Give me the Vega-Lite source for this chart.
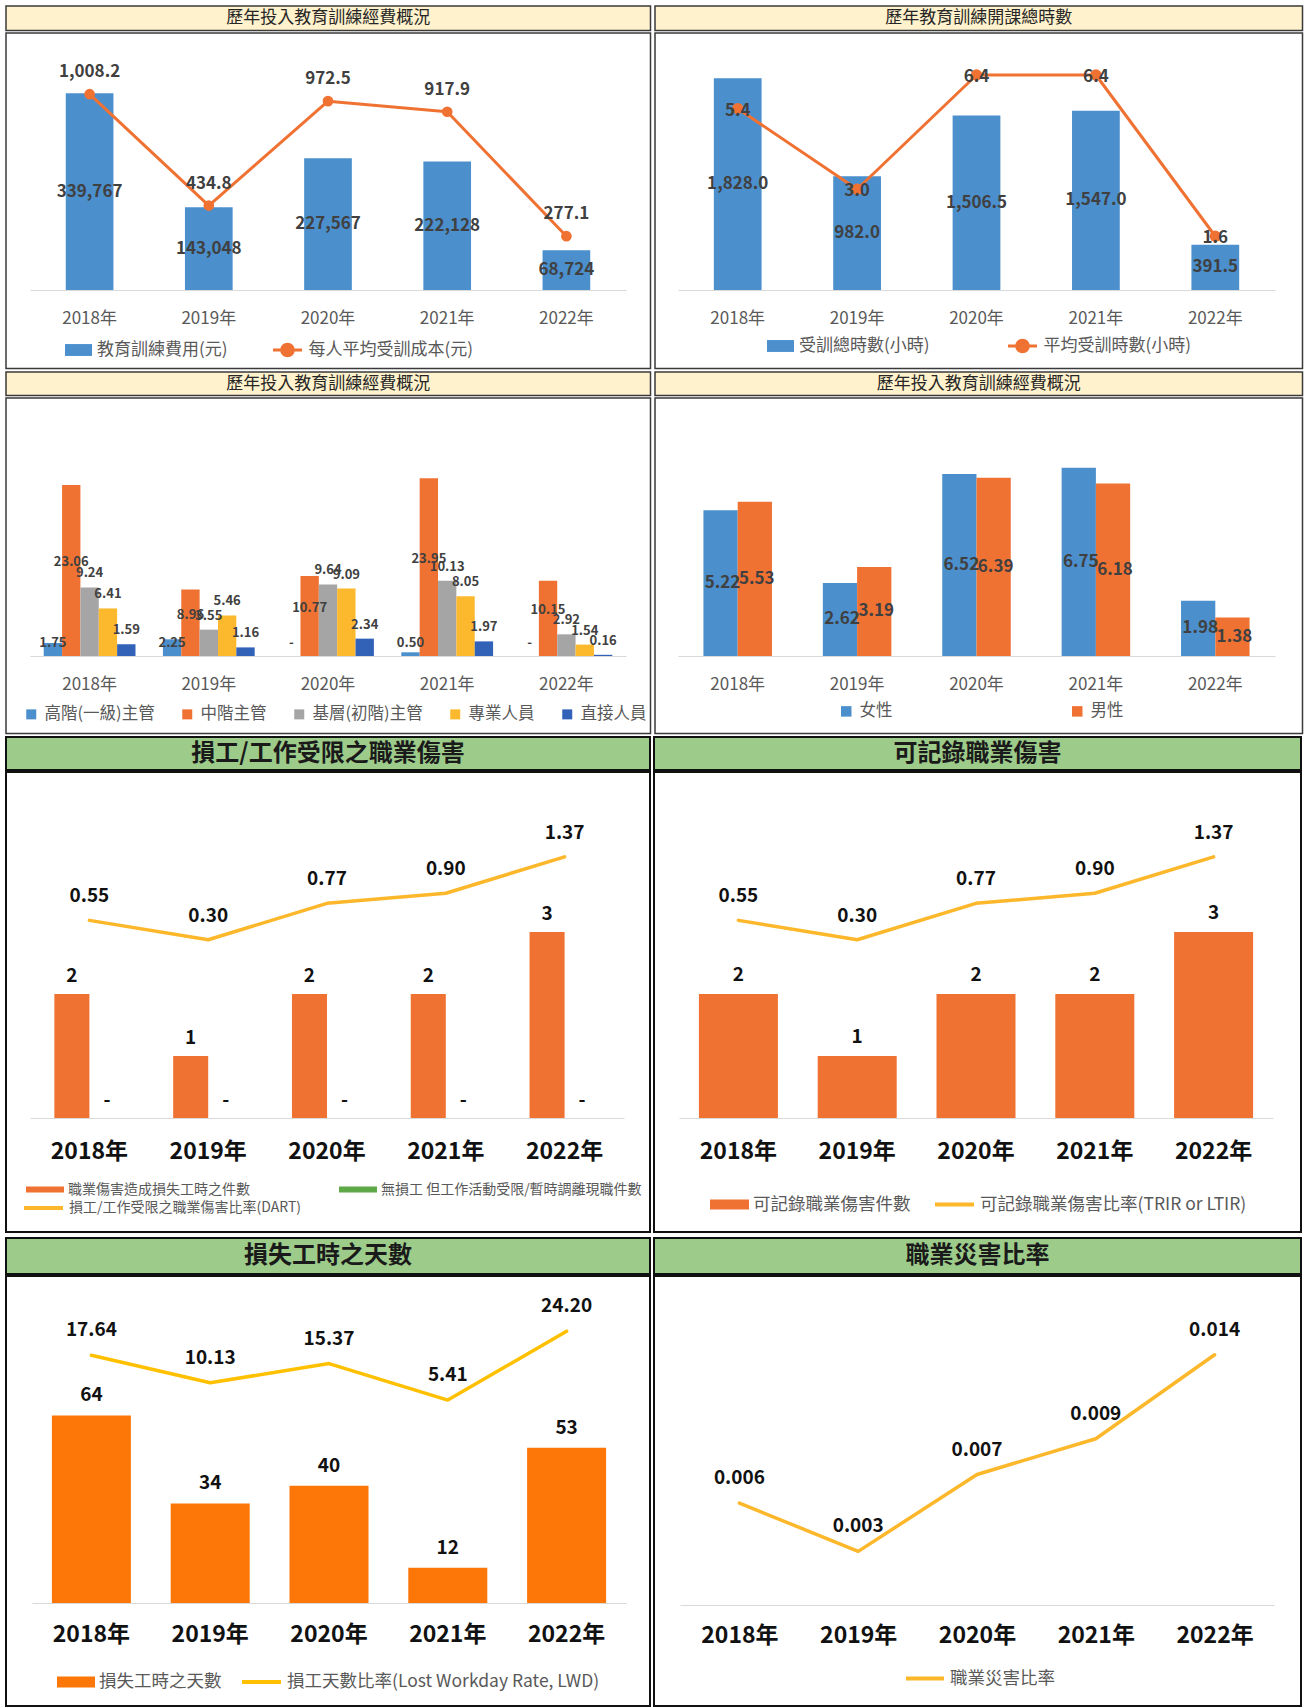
{
"$schema": "https://vega.github.io/schema/vega-lite/v6.json",
"background": "white",
"padding": {"left": 5, "top": 5, "right": 0, "bottom": 0},
"spacing": 4,
"config": {"view": {"stroke": null}, "font": "Noto Sans CJK TC", "text": {"font": "Noto Sans CJK TC"}},
"resolve": {"scale": {"x": "independent", "y": "independent", "xOffset": "independent", "fill": "independent", "stroke": "independent", "color": "independent"}, "legend": {"fill": "independent", "stroke": "independent", "color": "independent"}, "axis": {"x": "independent", "y": "independent"}},
"datasets": {
"p1": [
{"year":"2018年","v":339767,"r":1008.2},
{"year":"2019年","v":143048,"r":434.8},
{"year":"2020年","v":227567,"r":972.5},
{"year":"2021年","v":222128,"r":917.9},
{"year":"2022年","v":68724,"r":277.1}],
"p2": [
{"year":"2018年","v":1828.0,"r":5.4},
{"year":"2019年","v":982.0,"r":3.0},
{"year":"2020年","v":1506.5,"r":6.4},
{"year":"2021年","v":1547.0,"r":6.4},
{"year":"2022年","v":391.5,"r":1.6}],
"p3": [
{"year":"2018年","cat":"高階(一級)主管","v":1.75},
{"year":"2018年","cat":"中階主管","v":23.06},
{"year":"2018年","cat":"基層(初階)主管","v":9.24},
{"year":"2018年","cat":"專業人員","v":6.41},
{"year":"2018年","cat":"直接人員","v":1.59},
{"year":"2019年","cat":"高階(一級)主管","v":2.25},
{"year":"2019年","cat":"中階主管","v":8.96},
{"year":"2019年","cat":"基層(初階)主管","v":3.55},
{"year":"2019年","cat":"專業人員","v":5.46},
{"year":"2019年","cat":"直接人員","v":1.16},
{"year":"2020年","cat":"高階(一級)主管","v":0},
{"year":"2020年","cat":"中階主管","v":10.77},
{"year":"2020年","cat":"基層(初階)主管","v":9.64},
{"year":"2020年","cat":"專業人員","v":9.09},
{"year":"2020年","cat":"直接人員","v":2.34},
{"year":"2021年","cat":"高階(一級)主管","v":0.50},
{"year":"2021年","cat":"中階主管","v":23.95},
{"year":"2021年","cat":"基層(初階)主管","v":10.13},
{"year":"2021年","cat":"專業人員","v":8.05},
{"year":"2021年","cat":"直接人員","v":1.97},
{"year":"2022年","cat":"高階(一級)主管","v":0},
{"year":"2022年","cat":"中階主管","v":10.15},
{"year":"2022年","cat":"基層(初階)主管","v":2.92},
{"year":"2022年","cat":"專業人員","v":1.54},
{"year":"2022年","cat":"直接人員","v":0.16}],
"p4": [
{"year":"2018年","g":"女性","v":5.22},{"year":"2018年","g":"男性","v":5.53},
{"year":"2019年","g":"女性","v":2.62},{"year":"2019年","g":"男性","v":3.19},
{"year":"2020年","g":"女性","v":6.52},{"year":"2020年","g":"男性","v":6.39},
{"year":"2021年","g":"女性","v":6.75},{"year":"2021年","g":"男性","v":6.18},
{"year":"2022年","g":"女性","v":1.98},{"year":"2022年","g":"男性","v":1.38}],
"p5b": [
{"year":"2018年","s":"職業傷害造成損失工時之件數","v":2},{"year":"2018年","s":"無損工 但工作活動受限/暫時調離現職件數","v":0},
{"year":"2019年","s":"職業傷害造成損失工時之件數","v":1},{"year":"2019年","s":"無損工 但工作活動受限/暫時調離現職件數","v":0},
{"year":"2020年","s":"職業傷害造成損失工時之件數","v":2},{"year":"2020年","s":"無損工 但工作活動受限/暫時調離現職件數","v":0},
{"year":"2021年","s":"職業傷害造成損失工時之件數","v":2},{"year":"2021年","s":"無損工 但工作活動受限/暫時調離現職件數","v":0},
{"year":"2022年","s":"職業傷害造成損失工時之件數","v":3},{"year":"2022年","s":"無損工 但工作活動受限/暫時調離現職件數","v":0}],
"p5l": [
{"year":"2018年","r":0.55},{"year":"2019年","r":0.30},{"year":"2020年","r":0.77},{"year":"2021年","r":0.90},{"year":"2022年","r":1.37}],
"p6": [
{"year":"2018年","v":2,"r":0.55},{"year":"2019年","v":1,"r":0.30},{"year":"2020年","v":2,"r":0.77},{"year":"2021年","v":2,"r":0.90},{"year":"2022年","v":3,"r":1.37}],
"p7": [
{"year":"2018年","v":64,"r":17.64},{"year":"2019年","v":34,"r":10.13},{"year":"2020年","v":40,"r":15.37},{"year":"2021年","v":12,"r":5.41},{"year":"2022年","v":53,"r":24.20}],
"p8": [
{"year":"2018年","r":0.0057},{"year":"2019年","r":0.003},{"year":"2020年","r":0.0073},{"year":"2021年","r":0.0093},{"year":"2022年","r":0.014}]
},
"vconcat": [
{"spacing": 1,
 "resolve": {"scale": {"x": "independent", "y": "independent", "xOffset": "independent", "fill": "independent", "stroke": "independent", "color": "independent"}, "legend": {"fill": "independent", "stroke": "independent", "color": "independent"}, "axis": {"x": "independent", "y": "independent"}},
 "vconcat": [
{"resolve": {"scale": {"x": "independent", "y": "independent", "xOffset": "independent", "fill": "independent", "stroke": "independent", "color": "independent"}, "legend": {"fill": "independent", "stroke": "independent", "color": "independent"}, "axis": {"x": "independent", "y": "independent"}},
 "hconcat": [
 {"spacing": 0, "resolve": {"scale": {"x": "independent", "y": "independent", "xOffset": "independent", "fill": "independent", "stroke": "independent", "color": "independent"}, "legend": {"fill": "independent", "stroke": "independent", "color": "independent"}}, "vconcat": [
  {"width": 644.5, "height": 24.5, "view": {"fill": "#FFF2CC", "stroke": "#3a3a3a", "strokeWidth": 1.5},
   "data": {"values": [{"t": "歷年投入教育訓練經費概況"}]},
   "mark": {"type": "text", "fontSize": 17, "color": "#262626"},
   "encoding": {"text": {"field": "t", "type": "nominal"}}},
  {"width": 644.5, "height": 335.5, "view": {"fill": "white", "stroke": "#3a3a3a", "strokeWidth": 1.5},
   "data": {"name": "p1"},
   "encoding": {"x": {"field": "year", "type": "nominal", "scale": {"range": [24, 620], "paddingInner": 0.6, "paddingOuter": 0.3},
     "axis": {"title": null, "orient": "bottom", "offset": -78.5, "ticks": false, "tickSize": 0, "domainColor": "#D9D9D9", "domainWidth": 1.2, "labelPadding": 20, "labelFontSize": 17, "labelColor": "#595959", "labelAngle": 0, "grid": false}}},
   "layer": [
    {"mark": {"type": "bar"},
     "encoding": {"y": {"field": "v", "type": "quantitative", "scale": {"domain": [0, 443900], "range": [257, 0]}, "axis": null},
      "fill": {"datum": "教育訓練費用(元)", "scale": {"range": ["#4B8FCD"]},
       "legend": {"orient": "none", "legendX": 59, "legendY": 303.5, "title": null, "symbolType": "M-1,-0.44H1V0.44H-1Z", "symbolSize": 729, "symbolStrokeWidth": 0, "labelFontSize": 17, "labelColor": "#595959", "labelOffset": 5, "labelLimit": 500}}}},
    {"mark": {"type": "text", "fontSize": 17, "fontWeight": "bold", "color": "#404040"},
     "encoding": {"y": {"field": "v", "type": "quantitative", "scale": {"domain": [0, 887800], "range": [257, 0]}, "axis": null},
      "text": {"field": "v", "type": "quantitative", "format": ",d"}}},
    {"mark": {"type": "line", "strokeWidth": 3, "strokeJoin": "round"},
     "encoding": {"y": {"field": "r", "type": "quantitative", "scale": {"domain": [0, 1323.4], "range": [257, 0]}, "axis": null},
      "stroke": {"datum": "每人平均受訓成本(元)", "scale": {"range": ["#F07233"]},
       "legend": {"orient": "none", "legendX": 265.5, "legendY": 301, "title": null, "symbolType": "M-1,0H1M-0.4,0A0.4,0.4,0,1,0,0.4,0A0.4,0.4,0,1,0,-0.4,0", "symbolSize": 841, "symbolStrokeWidth": 3, "symbolFillColor": "#F07233", "labelFontSize": 17, "labelColor": "#595959", "labelOffset": 5, "labelLimit": 500,
        "encode": {"symbols": {"update": {"fill": {"value": "#F07233"}, "fillOpacity": {"value": 1}}}}}}}},
    {"mark": {"type": "point", "filled": true, "size": 115, "color": "#F07233", "opacity": 1},
     "encoding": {"y": {"field": "r", "type": "quantitative", "scale": {"domain": [0, 1323.4], "range": [257, 0]}, "axis": null}}},
    {"mark": {"type": "text", "dy": -22, "fontSize": 17, "fontWeight": "bold", "color": "#404040"},
     "encoding": {"y": {"field": "r", "type": "quantitative", "scale": {"domain": [0, 1323.4], "range": [257, 0]}, "axis": null},
      "text": {"field": "r", "type": "quantitative", "format": ",.1f"}}}
   ],
   "resolve": {"scale": {"y": "independent"}}}
 ]},
 {"spacing": 0, "resolve": {"scale": {"x": "independent", "y": "independent", "xOffset": "independent", "fill": "independent", "stroke": "independent", "color": "independent"}, "legend": {"fill": "independent", "stroke": "independent", "color": "independent"}}, "vconcat": [
  {"width": 647.5, "height": 24.5, "view": {"fill": "#FFF2CC", "stroke": "#3a3a3a", "strokeWidth": 1.5},
   "data": {"values": [{"t": "歷年教育訓練開課總時數"}]},
   "mark": {"type": "text", "fontSize": 17, "color": "#262626"},
   "encoding": {"text": {"field": "t", "type": "nominal"}}},
  {"width": 647.5, "height": 335.5, "view": {"fill": "white", "stroke": "#3a3a3a", "strokeWidth": 1.5},
   "data": {"name": "p2"},
   "encoding": {"x": {"field": "year", "type": "nominal", "scale": {"range": [23, 620], "paddingInner": 0.6, "paddingOuter": 0.3},
     "axis": {"title": null, "orient": "bottom", "offset": -78.5, "ticks": false, "tickSize": 0, "domainColor": "#D9D9D9", "domainWidth": 1.2, "labelPadding": 20, "labelFontSize": 17, "labelColor": "#595959", "labelAngle": 0, "grid": false}}},
   "layer": [
    {"mark": {"type": "bar"},
     "encoding": {"y": {"field": "v", "type": "quantitative", "scale": {"domain": [0, 2219], "range": [257, 0]}, "axis": null},
      "fill": {"datum": "受訓總時數(小時)", "scale": {"range": ["#4B8FCD"]},
       "legend": {"orient": "none", "legendX": 112, "legendY": 299.5, "title": null, "symbolType": "M-1,-0.44H1V0.44H-1Z", "symbolSize": 729, "symbolStrokeWidth": 0, "labelFontSize": 17, "labelColor": "#595959", "labelOffset": 5, "labelLimit": 500}}}},
    {"mark": {"type": "text", "fontSize": 17, "fontWeight": "bold", "color": "#404040"},
     "encoding": {"y": {"field": "v", "type": "quantitative", "scale": {"domain": [0, 4438], "range": [257, 0]}, "axis": null},
      "text": {"field": "v", "type": "quantitative", "format": ",.1f"}}},
    {"mark": {"type": "line", "strokeWidth": 3, "strokeJoin": "round"},
     "encoding": {"y": {"field": "r", "type": "quantitative", "scale": {"domain": [0, 7.65], "range": [257, 0]}, "axis": null},
      "stroke": {"datum": "平均受訓時數(小時)", "scale": {"range": ["#F07233"]},
       "legend": {"orient": "none", "legendX": 351.5, "legendY": 297, "title": null, "symbolType": "M-1,0H1M-0.4,0A0.4,0.4,0,1,0,0.4,0A0.4,0.4,0,1,0,-0.4,0", "symbolSize": 841, "symbolStrokeWidth": 3, "symbolFillColor": "#F07233", "labelFontSize": 17, "labelColor": "#595959", "labelOffset": 5, "labelLimit": 500,
        "encode": {"symbols": {"update": {"fill": {"value": "#F07233"}, "fillOpacity": {"value": 1}}}}}}}},
    {"mark": {"type": "point", "filled": true, "size": 130, "color": "#F07233", "opacity": 1},
     "encoding": {"y": {"field": "r", "type": "quantitative", "scale": {"domain": [0, 7.65], "range": [257, 0]}, "axis": null}}},
    {"mark": {"type": "text", "dy": 2, "fontSize": 17, "fontWeight": "bold", "color": "#404040"},
     "encoding": {"y": {"field": "r", "type": "quantitative", "scale": {"domain": [0, 7.65], "range": [257, 0]}, "axis": null},
      "text": {"field": "r", "type": "quantitative", "format": ".1f"}}}
   ],
   "resolve": {"scale": {"y": "independent"}}}
 ]}
], "spacing": 2},
{"resolve": {"scale": {"x": "independent", "y": "independent", "xOffset": "independent", "fill": "independent", "stroke": "independent", "color": "independent"}, "legend": {"fill": "independent", "stroke": "independent", "color": "independent"}, "axis": {"x": "independent", "y": "independent"}},
 "hconcat": [
 {"spacing": 0, "resolve": {"scale": {"x": "independent", "y": "independent", "xOffset": "independent", "fill": "independent", "stroke": "independent", "color": "independent"}, "legend": {"fill": "independent", "stroke": "independent", "color": "independent"}}, "vconcat": [
  {"width": 644.5, "height": 23.5, "view": {"fill": "#FFF2CC", "stroke": "#3a3a3a", "strokeWidth": 1.5},
   "data": {"values": [{"t": "歷年投入教育訓練經費概況"}]},
   "mark": {"type": "text", "fontSize": 17, "color": "#262626"},
   "encoding": {"text": {"field": "t", "type": "nominal"}}},
  {"width": 644.5, "height": 335.5, "view": {"fill": "white", "stroke": "#3a3a3a", "strokeWidth": 1.5},
   "data": {"name": "p3"},
   "encoding": {"x": {"field": "year", "type": "nominal", "scale": {"range": [24, 620], "paddingInner": 0.23, "paddingOuter": 0.115},
     "axis": {"title": null, "orient": "bottom", "offset": -77.5, "ticks": false, "tickSize": 0, "domainColor": "#D9D9D9", "domainWidth": 1.2, "labelPadding": 20, "labelFontSize": 17, "labelColor": "#595959", "labelAngle": 0, "grid": false}},
    "xOffset": {"field": "cat", "type": "nominal", "scale": {"domain": ["高階(一級)主管","中階主管","基層(初階)主管","專業人員","直接人員"]}}},
   "layer": [
    {"mark": {"type": "bar"},
     "encoding": {"y": {"field": "v", "type": "quantitative", "scale": {"domain": [0, 34.77], "range": [258, 0]}, "axis": null},
      "fill": {"field": "cat", "type": "nominal", "scale": {"domain": ["高階(一級)主管","中階主管","基層(初階)主管","專業人員","直接人員"], "range": ["#4B8FCD","#F07233","#A5A5A5","#FDB92D","#3162B8"]},
       "legend": {"orient": "none", "legendX": 17, "legendY": 308, "title": null, "direction": "horizontal", "columns": 5, "columnPadding": 24, "symbolType": "square", "symbolSize": 100, "symbolStrokeWidth": 0, "labelFontSize": 16.5, "labelColor": "#595959", "labelOffset": 5, "labelLimit": 500}}}},
    {"transform": [{"filter": "datum.cat === '高階(一級)主管'"}],
     "mark": {"type": "text", "dy": -13, "fontSize": 13, "fontWeight": "bold", "color": "#404040"},
     "encoding": {"y": {"datum": 0, "type": "quantitative", "scale": {"domain": [0, 34.77], "range": [258, 0]}, "axis": null},
      "text": {"condition": {"test": "datum.v === 0", "value": "-"}, "field": "v", "type": "quantitative", "format": ".2f"}}},
    {"transform": [{"filter": "datum.cat === '中階主管'"}],
     "mark": {"type": "text", "dy": -8, "fontSize": 13, "fontWeight": "bold", "color": "#404040"},
     "encoding": {"y": {"field": "v", "type": "quantitative", "scale": {"domain": [0, 69.54], "range": [258, 0]}, "axis": null},
      "text": {"field": "v", "type": "quantitative", "format": ".2f"}}},
    {"transform": [{"filter": "datum.cat !== '高階(一級)主管' && datum.cat !== '中階主管'"}],
     "mark": {"type": "text", "dy": -14, "fontSize": 13, "fontWeight": "bold", "color": "#404040"},
     "encoding": {"y": {"field": "v", "type": "quantitative", "scale": {"domain": [0, 34.77], "range": [258, 0]}, "axis": null},
      "text": {"field": "v", "type": "quantitative", "format": ".2f"}}}
   ],
   "resolve": {"scale": {"y": "independent"}}}
 ]},
 {"spacing": 0, "resolve": {"scale": {"x": "independent", "y": "independent", "xOffset": "independent", "fill": "independent", "stroke": "independent", "color": "independent"}, "legend": {"fill": "independent", "stroke": "independent", "color": "independent"}}, "vconcat": [
  {"width": 647.5, "height": 23.5, "view": {"fill": "#FFF2CC", "stroke": "#3a3a3a", "strokeWidth": 1.5},
   "data": {"values": [{"t": "歷年投入教育訓練經費概況"}]},
   "mark": {"type": "text", "fontSize": 17, "color": "#262626"},
   "encoding": {"text": {"field": "t", "type": "nominal"}}},
  {"width": 647.5, "height": 335.5, "view": {"fill": "white", "stroke": "#3a3a3a", "strokeWidth": 1.5},
   "data": {"name": "p4"},
   "encoding": {"x": {"field": "year", "type": "nominal", "scale": {"range": [23, 620], "paddingInner": 0.426, "paddingOuter": 0.213},
     "axis": {"title": null, "orient": "bottom", "offset": -77.5, "ticks": false, "tickSize": 0, "domainColor": "#D9D9D9", "domainWidth": 1.2, "labelPadding": 20, "labelFontSize": 17, "labelColor": "#595959", "labelAngle": 0, "grid": false}},
    "xOffset": {"field": "g", "type": "nominal", "scale": {"domain": ["女性","男性"]}}},
   "layer": [
    {"mark": {"type": "bar"},
     "encoding": {"y": {"field": "v", "type": "quantitative", "scale": {"domain": [0, 9.247], "range": [258, 0]}, "axis": null},
      "fill": {"field": "g", "type": "nominal", "scale": {"domain": ["女性","男性"], "range": ["#4B8FCD","#F07233"]},
       "legend": {"orient": "none", "legendX": 183, "legendY": 305, "title": null, "direction": "horizontal", "columns": 2, "columnPadding": 176, "symbolType": "square", "symbolSize": 110, "symbolStrokeWidth": 0, "labelFontSize": 16.5, "labelColor": "#595959", "labelOffset": 5, "labelLimit": 500}}}},
    {"mark": {"type": "text", "dx": 2, "fontSize": 17, "fontWeight": "bold", "color": "#404040"},
     "encoding": {"y": {"field": "v", "type": "quantitative", "scale": {"domain": [0, 18.49], "range": [258, 0]}, "axis": null},
      "text": {"field": "v", "type": "quantitative", "format": ".2f"}}}
   ],
   "resolve": {"scale": {"y": "independent"}}}
 ]}
], "spacing": 2},
{"resolve": {"scale": {"x": "independent", "y": "independent", "xOffset": "independent", "fill": "independent", "stroke": "independent", "color": "independent"}, "legend": {"fill": "independent", "stroke": "independent", "color": "independent"}, "axis": {"x": "independent", "y": "independent"}},
 "hconcat": [
 {"spacing": 0, "resolve": {"scale": {"x": "independent", "y": "independent", "xOffset": "independent", "fill": "independent", "stroke": "independent", "color": "independent"}, "legend": {"fill": "independent", "stroke": "independent", "color": "independent"}}, "vconcat": [
  {"width": 644, "height": 33, "view": {"fill": "#9DCC8A", "stroke": "#111", "strokeWidth": 2},
   "data": {"values": [{"t": "損工/工作受限之職業傷害"}]},
   "mark": {"type": "text", "fontSize": 24, "fontWeight": "bold", "color": "#1a1a1a"},
   "encoding": {"text": {"field": "t", "type": "nominal"}}},
  {"width": 644, "height": 460, "view": {"fill": "white", "stroke": "#111", "strokeWidth": 2},
   "encoding": {"x": {"field": "year", "type": "nominal", "scale": {"range": [24, 618], "paddingInner": 0.41, "paddingOuter": 0.205},
     "axis": {"title": null, "orient": "bottom", "offset": -114, "ticks": false, "tickSize": 0, "domainColor": "#D9D9D9", "domainWidth": 1.2, "labelPadding": 22, "labelFontSize": 23, "labelFontWeight": "bold", "labelColor": "#111", "labelAngle": 0, "grid": false}}},
   "layer": [
    {"data": {"name": "p5b"}, "mark": {"type": "bar"},
     "encoding": {"xOffset": {"field": "s", "type": "nominal", "scale": {"domain": ["職業傷害造成損失工時之件數","無損工 但工作活動受限/暫時調離現職件數"]}},
      "y": {"field": "v", "type": "quantitative", "scale": {"domain": [0, 5], "range": [346, 36]}, "axis": null},
      "fill": {"field": "s", "type": "nominal", "scale": {"domain": ["職業傷害造成損失工時之件數","無損工 但工作活動受限/暫時調離現職件數"], "range": ["#F07233","#5EA847"]},
       "legend": {"orient": "none", "legendX": 20, "legendY": 398.5, "title": null, "direction": "horizontal", "columns": 2, "columnPadding": 89, "symbolType": "M-1,-0.16H1V0.16H-1Z", "symbolSize": 1444, "symbolStrokeWidth": 0, "labelFontSize": 14, "labelColor": "#595959", "labelOffset": 4, "labelLimit": 500}}}},
    {"data": {"name": "p5b"}, "mark": {"type": "text", "dy": -18, "fontSize": 19, "fontWeight": "bold", "color": "#111"},
     "encoding": {"xOffset": {"field": "s", "type": "nominal", "scale": {"domain": ["職業傷害造成損失工時之件數","無損工 但工作活動受限/暫時調離現職件數"]}},
      "y": {"field": "v", "type": "quantitative", "scale": {"domain": [0, 5], "range": [346, 36]}, "axis": null},
      "text": {"condition": {"test": "datum.v === 0", "value": "-"}, "field": "v", "type": "quantitative", "format": "d"}}},
    {"data": {"name": "p5l"}, "mark": {"type": "line", "strokeWidth": 3.5, "strokeJoin": "round", "strokeCap": "round"},
     "encoding": {"y": {"field": "r", "type": "quantitative", "scale": {"domain": [-2, 2], "range": [346, 36]}, "axis": null},
      "stroke": {"datum": "損工/工作受限之職業傷害比率(DART)", "scale": {"range": ["#FDB72B"]},
       "legend": {"orient": "none", "legendX": 16, "legendY": 414.5, "title": null, "symbolType": "M-1,0H1", "symbolSize": 1521, "symbolStrokeWidth": 4, "labelFontSize": 14, "labelColor": "#595959", "labelOffset": 4, "labelLimit": 500}}}},
    {"data": {"name": "p5l"}, "mark": {"type": "text", "dy": -24, "fontSize": 19, "fontWeight": "bold", "color": "#111"},
     "encoding": {"y": {"field": "r", "type": "quantitative", "scale": {"domain": [-2, 2], "range": [346, 36]}, "axis": null},
      "text": {"field": "r", "type": "quantitative", "format": ".2f"}}}
   ],
   "resolve": {"scale": {"y": "independent"}}}
 ]},
 {"spacing": 0, "resolve": {"scale": {"x": "independent", "y": "independent", "xOffset": "independent", "fill": "independent", "stroke": "independent", "color": "independent"}, "legend": {"fill": "independent", "stroke": "independent", "color": "independent"}}, "vconcat": [
  {"width": 647, "height": 33, "view": {"fill": "#9DCC8A", "stroke": "#111", "strokeWidth": 2},
   "data": {"values": [{"t": "可記錄職業傷害"}]},
   "mark": {"type": "text", "fontSize": 24, "fontWeight": "bold", "color": "#1a1a1a"},
   "encoding": {"text": {"field": "t", "type": "nominal"}}},
  {"width": 647, "height": 460, "view": {"fill": "white", "stroke": "#111", "strokeWidth": 2},
   "data": {"name": "p6"},
   "encoding": {"x": {"field": "year", "type": "nominal", "scale": {"range": [25, 619], "paddingInner": 0.335, "paddingOuter": 0.1675},
     "axis": {"title": null, "orient": "bottom", "offset": -114, "ticks": false, "tickSize": 0, "domainColor": "#D9D9D9", "domainWidth": 1.2, "labelPadding": 22, "labelFontSize": 23, "labelFontWeight": "bold", "labelColor": "#111", "labelAngle": 0, "grid": false}}},
   "layer": [
    {"mark": {"type": "bar"},
     "encoding": {"y": {"field": "v", "type": "quantitative", "scale": {"domain": [0, 5], "range": [346, 36]}, "axis": null},
      "fill": {"datum": "可記錄職業傷害件數", "scale": {"range": ["#F07233"]},
       "legend": {"orient": "none", "legendX": 56, "legendY": 413, "title": null, "symbolType": "M-1,-0.26H1V0.26H-1Z", "symbolSize": 1521, "symbolStrokeWidth": 0, "labelFontSize": 17.5, "labelColor": "#595959", "labelOffset": 4, "labelLimit": 500}}}},
    {"mark": {"type": "text", "dy": -19, "fontSize": 19, "fontWeight": "bold", "color": "#111"},
     "encoding": {"y": {"field": "v", "type": "quantitative", "scale": {"domain": [0, 5], "range": [346, 36]}, "axis": null},
      "text": {"field": "v", "type": "quantitative", "format": "d"}}},
    {"mark": {"type": "line", "strokeWidth": 3.5, "strokeJoin": "round", "strokeCap": "round"},
     "encoding": {"y": {"field": "r", "type": "quantitative", "scale": {"domain": [-2, 2], "range": [346, 36]}, "axis": null},
      "stroke": {"datum": "可記錄職業傷害比率(TRIR or LTIR)", "scale": {"range": ["#FDB72B"]},
       "legend": {"orient": "none", "legendX": 279, "legendY": 411, "title": null, "symbolType": "M-1,0H1", "symbolSize": 1521, "symbolStrokeWidth": 4, "labelFontSize": 17.5, "labelColor": "#595959", "labelOffset": 4, "labelLimit": 500}}}},
    {"mark": {"type": "text", "dy": -24, "fontSize": 19, "fontWeight": "bold", "color": "#111"},
     "encoding": {"y": {"field": "r", "type": "quantitative", "scale": {"domain": [-2, 2], "range": [346, 36]}, "axis": null},
      "text": {"field": "r", "type": "quantitative", "format": ".2f"}}}
   ],
   "resolve": {"scale": {"y": "independent"}}}
 ]}
], "spacing": 2}
]},
{"resolve": {"scale": {"x": "independent", "y": "independent", "xOffset": "independent", "fill": "independent", "stroke": "independent", "color": "independent"}, "legend": {"fill": "independent", "stroke": "independent", "color": "independent"}, "axis": {"x": "independent", "y": "independent"}},
 "hconcat": [
 {"spacing": 0, "resolve": {"scale": {"x": "independent", "y": "independent", "xOffset": "independent", "fill": "independent", "stroke": "independent", "color": "independent"}, "legend": {"fill": "independent", "stroke": "independent", "color": "independent"}}, "vconcat": [
  {"width": 644, "height": 36, "view": {"fill": "#9DCC8A", "stroke": "#111", "strokeWidth": 2},
   "data": {"values": [{"t": "損失工時之天數"}]},
   "mark": {"type": "text", "fontSize": 24, "fontWeight": "bold", "color": "#1a1a1a"},
   "encoding": {"text": {"field": "t", "type": "nominal"}}},
  {"width": 644, "height": 430, "view": {"fill": "white", "stroke": "#111", "strokeWidth": 2},
   "data": {"name": "p7"},
   "encoding": {"x": {"field": "year", "type": "nominal", "scale": {"range": [26, 620], "paddingInner": 0.335, "paddingOuter": 0.1675},
     "axis": {"title": null, "orient": "bottom", "offset": -103, "ticks": false, "tickSize": 0, "domainColor": "#D9D9D9", "domainWidth": 1.2, "labelPadding": 20, "labelFontSize": 23, "labelFontWeight": "bold", "labelColor": "#111", "labelAngle": 0, "grid": false}}},
   "layer": [
    {"mark": {"type": "bar"},
     "encoding": {"y": {"field": "v", "type": "quantitative", "scale": {"domain": [0, 100], "range": [327, 34]}, "axis": null},
      "fill": {"datum": "損失工時之天數", "scale": {"range": ["#FC7608"]},
       "legend": {"orient": "none", "legendX": 51, "legendY": 387, "title": null, "symbolType": "M-1,-0.29H1V0.29H-1Z", "symbolSize": 1444, "symbolStrokeWidth": 0, "labelFontSize": 17.5, "labelColor": "#595959", "labelOffset": 4, "labelLimit": 500}}}},
    {"mark": {"type": "text", "dy": -20, "fontSize": 19, "fontWeight": "bold", "color": "#111"},
     "encoding": {"y": {"field": "v", "type": "quantitative", "scale": {"domain": [0, 100], "range": [327, 34]}, "axis": null},
      "text": {"field": "v", "type": "quantitative", "format": "d"}}},
    {"mark": {"type": "line", "strokeWidth": 3.5, "strokeJoin": "round", "strokeCap": "round"},
     "encoding": {"y": {"field": "r", "type": "quantitative", "scale": {"domain": [-50, 30], "range": [327, 34]}, "axis": null},
      "stroke": {"datum": "損工天數比率(Lost Workday Rate, LWD)", "scale": {"range": ["#FFC000"]},
       "legend": {"orient": "none", "legendX": 234, "legendY": 384.5, "title": null, "symbolType": "M-1,0H1", "symbolSize": 1521, "symbolStrokeWidth": 4, "labelFontSize": 17.5, "labelColor": "#595959", "labelOffset": 4, "labelLimit": 500}}}},
    {"mark": {"type": "text", "dy": -25, "fontSize": 19, "fontWeight": "bold", "color": "#111"},
     "encoding": {"y": {"field": "r", "type": "quantitative", "scale": {"domain": [-50, 30], "range": [327, 34]}, "axis": null},
      "text": {"field": "r", "type": "quantitative", "format": ".2f"}}}
   ],
   "resolve": {"scale": {"y": "independent"}}}
 ]},
 {"spacing": 0, "resolve": {"scale": {"x": "independent", "y": "independent", "xOffset": "independent", "fill": "independent", "stroke": "independent", "color": "independent"}, "legend": {"fill": "independent", "stroke": "independent", "color": "independent"}}, "vconcat": [
  {"width": 647, "height": 36, "view": {"fill": "#9DCC8A", "stroke": "#111", "strokeWidth": 2},
   "data": {"values": [{"t": "職業災害比率"}]},
   "mark": {"type": "text", "fontSize": 24, "fontWeight": "bold", "color": "#1a1a1a"},
   "encoding": {"text": {"field": "t", "type": "nominal"}}},
  {"width": 647, "height": 430, "view": {"fill": "white", "stroke": "#111", "strokeWidth": 2},
   "data": {"name": "p8"},
   "encoding": {"x": {"field": "year", "type": "nominal", "scale": {"type": "point", "range": [26, 620], "padding": 0.5},
     "axis": {"title": null, "orient": "bottom", "offset": -101, "ticks": false, "tickSize": 0, "domainColor": "#D9D9D9", "domainWidth": 1.2, "labelPadding": 19, "labelFontSize": 23, "labelFontWeight": "bold", "labelColor": "#111", "labelAngle": 0, "grid": false}}},
   "layer": [
    {"mark": {"type": "line", "strokeWidth": 3.5, "strokeJoin": "round", "strokeCap": "round"},
     "encoding": {"y": {"field": "r", "type": "quantitative", "scale": {"domain": [0, 0.016], "range": [329, 43]}, "axis": null},
      "stroke": {"datum": "職業災害比率", "scale": {"range": ["#FDB72B"]},
       "legend": {"orient": "none", "legendX": 250, "legendY": 381.5, "title": null, "symbolType": "M-1,0H1", "symbolSize": 1444, "symbolStrokeWidth": 4, "labelFontSize": 17.5, "labelColor": "#595959", "labelOffset": 4, "labelLimit": 500}}}},
    {"mark": {"type": "text", "dy": -25, "fontSize": 19, "fontWeight": "bold", "color": "#111"},
     "encoding": {"y": {"field": "r", "type": "quantitative", "scale": {"domain": [0, 0.016], "range": [329, 43]}, "axis": null},
      "text": {"field": "r", "type": "quantitative", "format": ".3f"}}}
   ]}
 ]}
], "spacing": 2}
]
}
